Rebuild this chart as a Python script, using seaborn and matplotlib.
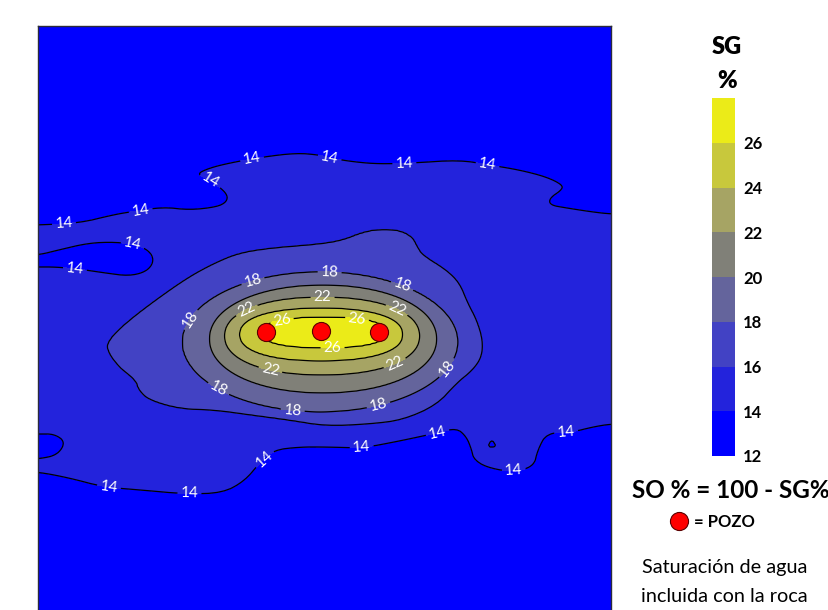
import numpy as np
import matplotlib
matplotlib.use("Agg")
import matplotlib.pyplot as plt
from matplotlib.path import Path
import seaborn as sns

# ---------------------------------------------------------------------------
# Map frame (grid units, x to the east, y to the north)
X_MAX, Y_MAX = 572, 584

# SG % classes and their fill colours
LEVELS = [12, 14, 16, 18, 20, 22, 24, 26, 28]
BAND_COLORS = ["#0000ff", "#2323dc", "#4242c4", "#64649c", "#808078",
               "#a6a464", "#c8c83c", "#ebeb18"]
LABELED_LEVELS = [14, 18, 22, 26]
PLAIN_LEVELS = [16, 20, 24]
CBAR_TICKS = [12, 14, 16, 18, 20, 22, 24, 26]

# Wells (POZO)
WELL_X = [227, 282, 340]
WELL_Y = [278, 279, 278]
WELL_PEAK_SG = 27.6

# SG = 14 % isoline: northern edge of the 14-16 % belt (west -> east)
ISO14_NORTH = [(-20, 385), (0, 385), (41, 387), (74, 395), (91, 398), (124, 403),
               (151, 400), (178, 403), (188, 408), (189, 415), (181, 423),
               (168, 432), (158, 436), (171, 442), (191, 447), (224, 453),
               (258, 457), (281, 455), (291, 452), (316, 448), (341, 446),
               (374, 447), (421, 450), (451, 445), (481, 440), (508, 433),
               (524, 425), (523, 420), (511, 412), (511, 405), (528, 402),
               (554, 398), (572, 396), (592, 396)]
# SG = 14 % isoline: southern edge of the belt (west -> east)
ISO14_SOUTH = [(-20, 138), (0, 138), (31, 132), (65, 123), (102, 120), (147, 116),
               (184, 117), (206, 129), (221, 147), (235, 160), (261, 163),
               (287, 163), (324, 162), (361, 169), (398, 177), (418, 182),
               (428, 173), (433, 160), (435, 151), (447, 143), (472, 138),
               (495, 143), (499, 160), (508, 177), (534, 178), (554, 183),
               (572, 186), (592, 186)]
# Low-SG pockets (< 14 %) inside the belt
POCKET_WEST = [(-20, 355), (0, 355), (20, 360), (50, 367), (77, 368), (100, 365),
               (113, 357), (115, 347), (107, 338), (90, 334), (67, 337),
               (40, 341), (17, 343), (0, 343), (-20, 343)]
POCKET_SW = [(-20, 176), (0, 176), (16, 176), (27, 168), (19, 155), (0, 151),
             (-20, 151)]
POCKET_SE = [(449, 163), (453, 171), (458, 163)]

# SG = 16 % isoline around the well cluster
ISO16 = [(200, 357), (231, 362), (281, 366), (304, 370), (324, 378), (341, 381),
         (361, 380), (374, 373), (379, 363), (384, 355), (408, 340), (421, 327),
         (429, 307), (438, 290), (444, 270), (443, 253), (434, 240), (418, 227),
         (398, 205), (364, 190), (331, 186), (287, 184), (251, 190), (213, 195),
         (176, 200), (141, 201), (110, 210), (100, 220), (97, 230), (80, 243),
         (68, 260), (70, 270), (87, 287), (117, 310), (150, 333), (176, 347)]

# Inner isolines (18-26 %) as ellipses: centre, semi-axes and squareness
CORE_LEVELS = [18, 20, 22, 24, 26]
CORE_CX = [281.5, 284.5, 283.5, 282.5, 285.5]
CORE_CY = [268.0, 271.0, 274.0, 275.5, 277.5]
CORE_A = [137.5, 113.5, 97.5, 81.5, 62.5]
CORE_B = [70.0, 54.0, 39.0, 26.5, 15.5]
CORE_P = [2.0, 2.1, 2.2, 2.3, 2.5]

# Contour label anchors
LABEL_POS = [
    (214, 448), (290, 447), (366, 440), (448, 440), (168, 423), (103, 394),
    (26, 378), (93, 360), (36, 337), (71, 127), (151, 120), (225, 152),
    (323, 164), (399, 177), (475, 143), (528, 172),
    (214, 330), (291, 337), (364, 325), (156, 287), (411, 240), (181, 223),
    (254, 197), (341, 200),
    (208, 300), (284, 310), (358, 300), (231, 235), (358, 243),
    (244, 285), (318, 283), (294, 257),
]


# ---------------------------------------------------------------------------
def chaikin(pts, n=2, closed=False):
    p = np.asarray(pts, float)
    for _ in range(n):
        if closed:
            q = np.roll(p, -1, axis=0)
            a = 0.75 * p + 0.25 * q
            b = 0.25 * p + 0.75 * q
            p = np.empty((2 * len(a), 2))
            p[0::2], p[1::2] = a, b
        else:
            a = 0.75 * p[:-1] + 0.25 * p[1:]
            b = 0.25 * p[:-1] + 0.75 * p[1:]
            mid = np.empty((2 * len(a), 2))
            mid[0::2], mid[1::2] = a, b
            p = np.vstack([p[:1], mid, p[-1:]])
    return p


def line_distance(gx, gy, pts, closed=False):
    p = np.asarray(pts, float)
    if closed:
        p = np.vstack([p, p[:1]])
    d = np.full(gx.shape, np.inf)
    for (x0, y0), (x1, y1) in zip(p[:-1], p[1:]):
        dx, dy = x1 - x0, y1 - y0
        l2 = dx * dx + dy * dy
        if l2 == 0:
            continue
        t = np.clip(((gx - x0) * dx + (gy - y0) * dy) / l2, 0, 1)
        d = np.minimum(d, np.hypot(gx - x0 - t * dx, gy - y0 - t * dy))
    return d


def inside(gx, gy, pts):
    pts2 = np.column_stack([gx.ravel(), gy.ravel()])
    return Path(np.asarray(pts)).contains_points(pts2).reshape(gx.shape)


# Grid of the SG % surface
gx1 = np.arange(-3, X_MAX + 3.1, 1.5)
gy1 = np.arange(-3, Y_MAX + 3.1, 1.5)
GX, GY = np.meshgrid(gx1, gy1)

north = chaikin(ISO14_NORTH)
south = chaikin(ISO14_SOUTH)
pw = chaikin(POCKET_WEST, closed=True)
psw = chaikin(POCKET_SW, closed=True)
pse = chaikin(POCKET_SE, n=1, closed=True)

d14 = np.minimum.reduce([
    line_distance(GX, GY, north), line_distance(GX, GY, south),
    line_distance(GX, GY, pw, True), line_distance(GX, GY, psw, True),
    line_distance(GX, GY, pse, True)])
belt = inside(GX, GY, np.vstack([north, south[::-1]]))
pockets = inside(GX, GY, pw) | inside(GX, GY, psw) | inside(GX, GY, pse)
s14 = np.where(belt & ~pockets, d14, -d14)
sg = 14 + np.clip(s14 / 10.0, -1, 1)

blob = chaikin(ISO16, closed=True)
d16 = line_distance(GX, GY, blob, True)
in16 = inside(GX, GY, blob)
sg = np.where(in16, sg, np.maximum(sg, 16 - d16 / 8.0))

rho = [(np.abs((GX - cx) / a) ** p + np.abs((GY - cy) / b) ** p) ** (1 / p)
       for cx, cy, a, b, p in zip(CORE_CX, CORE_CY, CORE_A, CORE_B, CORE_P)]

ring = in16 & (rho[0] >= 1)
e18 = np.maximum((rho[0] - 1) * CORE_B[0], 1e-6)
sg = np.where(ring, 16 + 2 * d16 / (d16 + e18), sg)
for k in range(len(CORE_LEVELS) - 1):
    m = (rho[k] < 1) & (rho[k + 1] >= 1)
    a = 1 - rho[k]
    b = rho[k + 1] - 1
    sg = np.where(m, CORE_LEVELS[k] + 2 * a / np.maximum(a + b, 1e-9), sg)
m = rho[-1] < 1
sg = np.where(m, CORE_LEVELS[-1] + (WELL_PEAK_SG - CORE_LEVELS[-1]) * (1 - rho[-1]), sg)

# ---------------------------------------------------------------------------
sns.set_theme(style="white")
plt.rcParams["font.family"] = ["Lato", "DejaVu Sans"]
plt.rcParams["text.color"] = "black"
plt.rcParams["ytick.color"] = "black"

W, H = 829, 610
fig = plt.figure(figsize=(W / 100, H / 100), dpi=100)
fig.patch.set_facecolor("white")

ax = fig.add_axes([38.5 / W, 0, (610.7 - 38.5) / W, Y_MAX / H])
cf = ax.contourf(GX, GY, sg, levels=LEVELS, colors=BAND_COLORS)
ax.contour(GX, GY, sg, levels=PLAIN_LEVELS, colors="black", linewidths=0.9)
cs = ax.contour(GX, GY, sg, levels=LABELED_LEVELS, colors="black", linewidths=0.9)
ax.clabel(cs, manual=LABEL_POS, inline=True, inline_spacing=3, fmt="%d",
          fontsize=11, colors="white")

sns.scatterplot(x=WELL_X, y=WELL_Y, ax=ax, s=170, color="#ff0000",
                edgecolor="#5a0000", linewidth=0.8, zorder=6)

ax.set_xlim(0, X_MAX)
ax.set_ylim(0, Y_MAX)
ax.set_xticks([])
ax.set_yticks([])
for side_name in ("left", "top", "right"):
    ax.spines[side_name].set_color("#2b2b3a")
    ax.spines[side_name].set_linewidth(1.0)
ax.spines["bottom"].set_visible(False)

# Colour bar
cax = fig.add_axes([712 / W, (H - 456) / H, 23 / W, 358 / H])
cb = fig.colorbar(cf, cax=cax, ticks=CBAR_TICKS)
cb.outline.set_visible(False)
cax.tick_params(length=0, pad=6, labelsize=12, labelcolor="black")
for lbl in cax.get_yticklabels():
    lbl.set_fontweight("bold")

# Side panel texts and legend marker (figure pixel coordinates)
side = fig.add_axes([0, 0, 1, 1], facecolor="none")
side.set_xlim(0, W)
side.set_ylim(H, 0)
side.axis("off")
side.text(727, 47, "SG", ha="center", va="center", fontsize=17, fontweight="heavy")
side.text(727, 81, "%", ha="center", va="center", fontsize=17, fontweight="heavy")
side.text(632, 490, "SO % = 100 - SG%", ha="left", va="center",
          fontsize=17.5, fontweight="bold")
sns.scatterplot(x=[679], y=[521], ax=side, s=170, color="#ff0000",
                edgecolor="#5a0000", linewidth=0.8)
side.text(694, 522, "= POZO", ha="left", va="center", fontsize=12, fontweight="bold")
side.text(725, 568, "Saturación de agua", ha="center", va="center", fontsize=14.3)
side.text(724, 596, "incluida con la roca", ha="center", va="center", fontsize=14.3)

fig.savefig("out.png", dpi=100, facecolor="white")
